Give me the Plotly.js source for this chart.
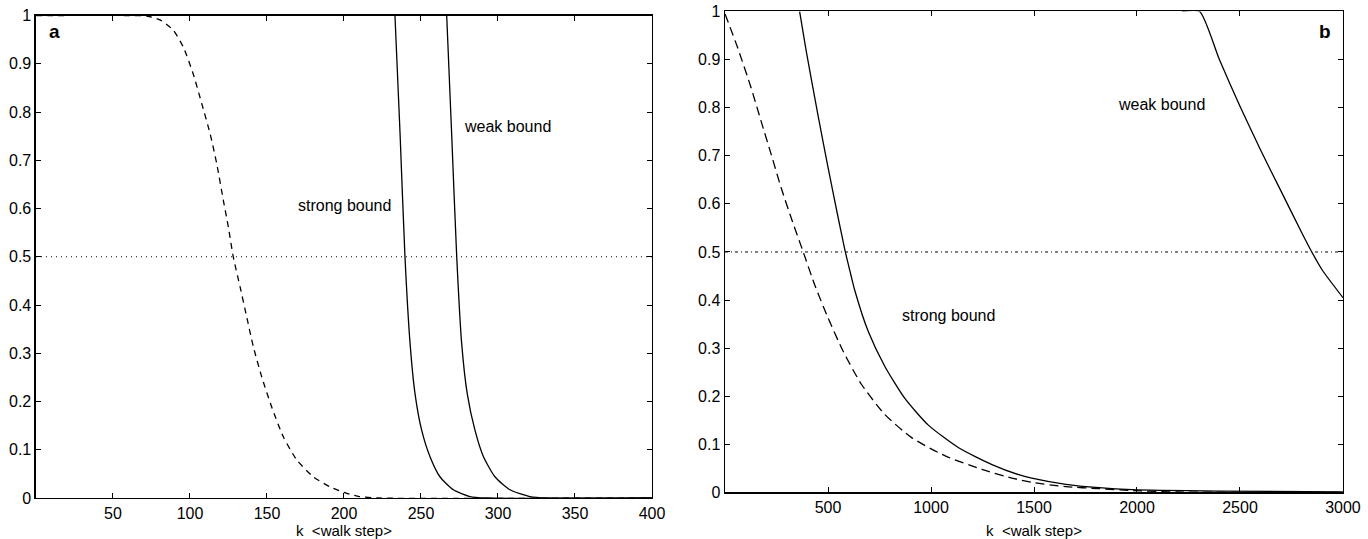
<!DOCTYPE html>
<html>
<head>
<meta charset="utf-8">
<script src="https://cdn.plot.ly/plotly-3.0.1.min.js"></script>
<style>html,body{margin:0;padding:0;background:#fff;}#chart{width:1368px;height:539px;}</style>
</head>
<body>
<div id="chart"></div>
<script>
// ---- Panel a data ----
const aLowerX = [0, 60, 72, 80.5, 89, 95.6, 102, 107.6, 113, 117.3, 121.6, 124.9, 128.1, 132.5, 136.8, 141.1, 146.6, 153, 160.6, 169.3, 180, 191, 201.8, 210, 222, 400];
const aLowerY = [1, 1, 0.999, 0.991, 0.970, 0.935, 0.880, 0.818, 0.756, 0.694, 0.618, 0.562, 0.500, 0.438, 0.376, 0.314, 0.251, 0.189, 0.127, 0.079, 0.044, 0.023, 0.0097, 0.003, 0, 0];
const aStrongX = [233.1, 236.4, 239.6, 242.9, 246.1, 250.4, 255.8, 262.3, 271, 281.8, 292, 400];
const aStrongY = [1, 0.756, 0.500, 0.321, 0.217, 0.141, 0.086, 0.044, 0.017, 0.003, 0, 0];
const aWeakX = [266.7, 269.9, 273.2, 276.4, 280, 285, 290.5, 298, 307.8, 320.8, 332, 400];
const aWeakY = [1, 0.756, 0.500, 0.321, 0.217, 0.141, 0.086, 0.044, 0.017, 0.003, 0, 0];
const aHalfX = [0, 400];
const aHalfY = [0.5, 0.5];

// ---- Panel b data ----
const bLowerX = [0, 61, 126, 175, 224, 272, 321, 378, 435, 500, 573, 662, 776, 906, 1069, 1247, 1393, 1489, 1655, 1816, 1977, 2200, 3000];
const bLowerY = [0.995, 0.925, 0.842, 0.772, 0.703, 0.634, 0.571, 0.502, 0.432, 0.363, 0.294, 0.225, 0.162, 0.114, 0.076, 0.048, 0.030, 0.021, 0.012, 0.008, 0.004, 0.001, 0];
const bStrongX = [362, 394, 451, 500, 545, 581, 614, 630, 695, 776, 874, 987, 1134, 1296, 1426, 1489, 1655, 1816, 1977, 2400, 3000];
const bStrongY = [1, 0.918, 0.785, 0.676, 0.580, 0.506, 0.447, 0.420, 0.335, 0.262, 0.195, 0.140, 0.093, 0.058, 0.037, 0.030, 0.017, 0.010, 0.006, 0.003, 0.001];
const bWeakX = [2220, 2304, 2400, 2500, 2600, 2700, 2800, 2850, 2900, 3000];
const bWeakY = [1, 1, 0.900, 0.803, 0.712, 0.626, 0.540, 0.499, 0.462, 0.405];
const bHalfX = [0, 3000];
const bHalfY = [0.5, 0.5];

const aTicks = [50, 100, 150, 200, 250, 300, 350, 400];
const bTicks = [500, 1000, 1500, 2000, 2500, 3000];
const yTicks = [0, 0.1, 0.2, 0.3, 0.4, 0.5, 0.6, 0.7, 0.8, 0.9, 1];

const FONT = "Liberation Sans, Arial, Helvetica, sans-serif";
const lineW = 1.3;
const sm = {shape: 'spline', smoothing: 0.6};

const traces = [
  {x: aLowerX, y: aLowerY, xaxis: 'x', yaxis: 'y', mode: 'lines', line: Object.assign({color: '#000', width: lineW, dash: '6px,5px'}, sm)},
  {x: aStrongX, y: aStrongY, xaxis: 'x', yaxis: 'y', mode: 'lines', line: Object.assign({color: '#000', width: lineW}, sm)},
  {x: aWeakX, y: aWeakY, xaxis: 'x', yaxis: 'y', mode: 'lines', line: Object.assign({color: '#000', width: lineW}, sm)},
  {x: aHalfX, y: aHalfY, xaxis: 'x', yaxis: 'y', mode: 'lines', line: {color: '#000', width: 1, dash: '1px,4px'}},
  {x: bLowerX, y: bLowerY, xaxis: 'x2', yaxis: 'y2', mode: 'lines', line: Object.assign({color: '#000', width: lineW, dash: '9px,5px'}, sm)},
  {x: bStrongX, y: bStrongY, xaxis: 'x2', yaxis: 'y2', mode: 'lines', line: Object.assign({color: '#000', width: lineW}, sm)},
  {x: bWeakX, y: bWeakY, xaxis: 'x2', yaxis: 'y2', mode: 'lines', line: Object.assign({color: '#000', width: lineW}, sm)},
  {x: bHalfX, y: bHalfY, xaxis: 'x2', yaxis: 'y2', mode: 'lines', line: {color: '#000', width: 1, dash: '3px,3px,1px,3px'}}
];

const axisCommon = {
  showline: true, linecolor: '#000', linewidth: 1.5, mirror: 'allticks',
  ticks: 'inside', ticklen: 5, tickwidth: 1, tickcolor: '#000',
  showgrid: false, zeroline: false, fixedrange: true,
  tickfont: {family: FONT, size: 16, color: '#000'}
};

const titleFont = {family: FONT, size: 15, color: '#000'};

const layout = {
  width: 1368, height: 539,
  margin: {l: 0, r: 0, t: 0, b: 0},
  paper_bgcolor: '#fff', plot_bgcolor: '#fff',
  showlegend: false,
  font: {family: FONT, color: '#000'},
  xaxis: Object.assign({}, axisCommon, {
    domain: [0.0263, 0.4766], range: [0, 400], tickvals: aTicks, anchor: 'y',
    title: {text: 'k  &lt;walk step&gt;', font: titleFont, standoff: 10}
  }),
  yaxis: Object.assign({}, axisCommon, {
    domain: [0.0761, 0.9712], range: [0, 1], tickvals: yTicks, anchor: 'x'
  }),
  xaxis2: Object.assign({}, axisCommon, {
    domain: [0.5300, 0.9817], range: [0, 3000], tickvals: bTicks, anchor: 'y2',
    title: {text: 'k  &lt;walk step&gt;', font: titleFont, standoff: 10}
  }),
  yaxis2: Object.assign({}, axisCommon, {
    domain: [0.0863, 0.9787], range: [0, 1], tickvals: yTicks, anchor: 'x2'
  }),
  annotations: [
    {xref: 'x', yref: 'y', x: 12.3, y: 0.966, text: '<b>a</b>', showarrow: false, font: {family: FONT, size: 19, color: '#000'}},
    {xref: 'x', yref: 'y', x: 200.6, y: 0.607, text: 'strong bound', showarrow: false, font: {family: FONT, size: 16, color: '#000'}},
    {xref: 'x', yref: 'y', x: 306.5, y: 0.769, text: 'weak bound', showarrow: false, font: {family: FONT, size: 16, color: '#000'}},
    {xref: 'x2', yref: 'y2', x: 2913, y: 0.958, text: '<b>b</b>', showarrow: false, font: {family: FONT, size: 19, color: '#000'}},
    {xref: 'x2', yref: 'y2', x: 1086, y: 0.367, text: 'strong bound', showarrow: false, font: {family: FONT, size: 16, color: '#000'}},
    {xref: 'x2', yref: 'y2', x: 2119, y: 0.807, text: 'weak bound', showarrow: false, font: {family: FONT, size: 16, color: '#000'}}
  ]
};

Plotly.newPlot('chart', traces, layout, {displayModeBar: false, staticPlot: true});
</script>
</body>
</html>
